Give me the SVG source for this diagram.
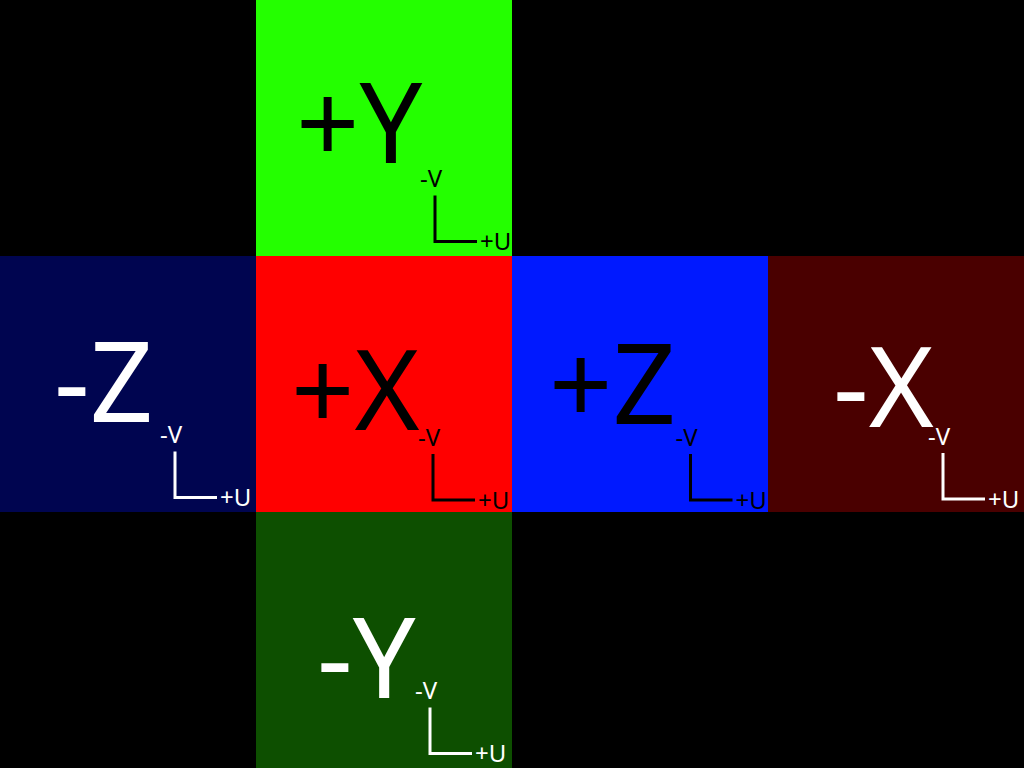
<svg xmlns="http://www.w3.org/2000/svg" width="1024" height="768" viewBox="0 0 1024 768">
<style>
.big{font-family:"Noto Sans","Open Sans",sans-serif;font-size:111px}
.small{font-family:"Noto Sans","Open Sans",sans-serif;font-size:24px}
.axis{fill:none;stroke:currentColor;stroke-width:3}
.dk{fill:#000;color:#000}
.lt{fill:#fff;color:#fff}
</style>
<defs>
<g id="uv">
<path class="axis" d="M0,-46V0H42"/>
<text class="small" x="-15" y="-54.5">-V</text>
<text class="small" x="45" y="8.5">+U</text>
</g>
</defs>
<rect width="1024" height="768" fill="#000"/>
<g id="posY" class="dk">
<rect x="256" y="0" width="256" height="256" fill="#24ff00"/>
<text class="big" x="296" y="163">+Y</text>
<use href="#uv" x="435" y="241.5"/>
</g>
<g id="negZ" class="lt">
<rect x="0" y="256" width="256" height="256" fill="#000550"/>
<text class="big" x="54" y="422">-Z</text>
<use href="#uv" x="175" y="497.5"/>
</g>
<g id="posX" class="dk">
<rect x="256" y="256" width="256" height="256" fill="#ff0000"/>
<text class="big" x="291" y="430">+X</text>
<use href="#uv" x="433" y="500"/>
</g>
<g id="posZ" class="dk">
<rect x="512" y="256" width="256" height="256" fill="#0019ff"/>
<text class="big" x="549" y="424">+Z</text>
<use href="#uv" x="690.5" y="500"/>
</g>
<g id="negX" class="lt">
<rect x="768" y="256" width="256" height="256" fill="#4a0000"/>
<text class="big" x="833" y="427">-X</text>
<use href="#uv" x="943" y="499"/>
</g>
<g id="negY" class="lt">
<rect x="256" y="512" width="256" height="256" fill="#0d4f00"/>
<text class="big" x="317" y="698">-Y</text>
<use href="#uv" x="430" y="753.5"/>
</g>
<g id="connectors"></g>
</svg>
